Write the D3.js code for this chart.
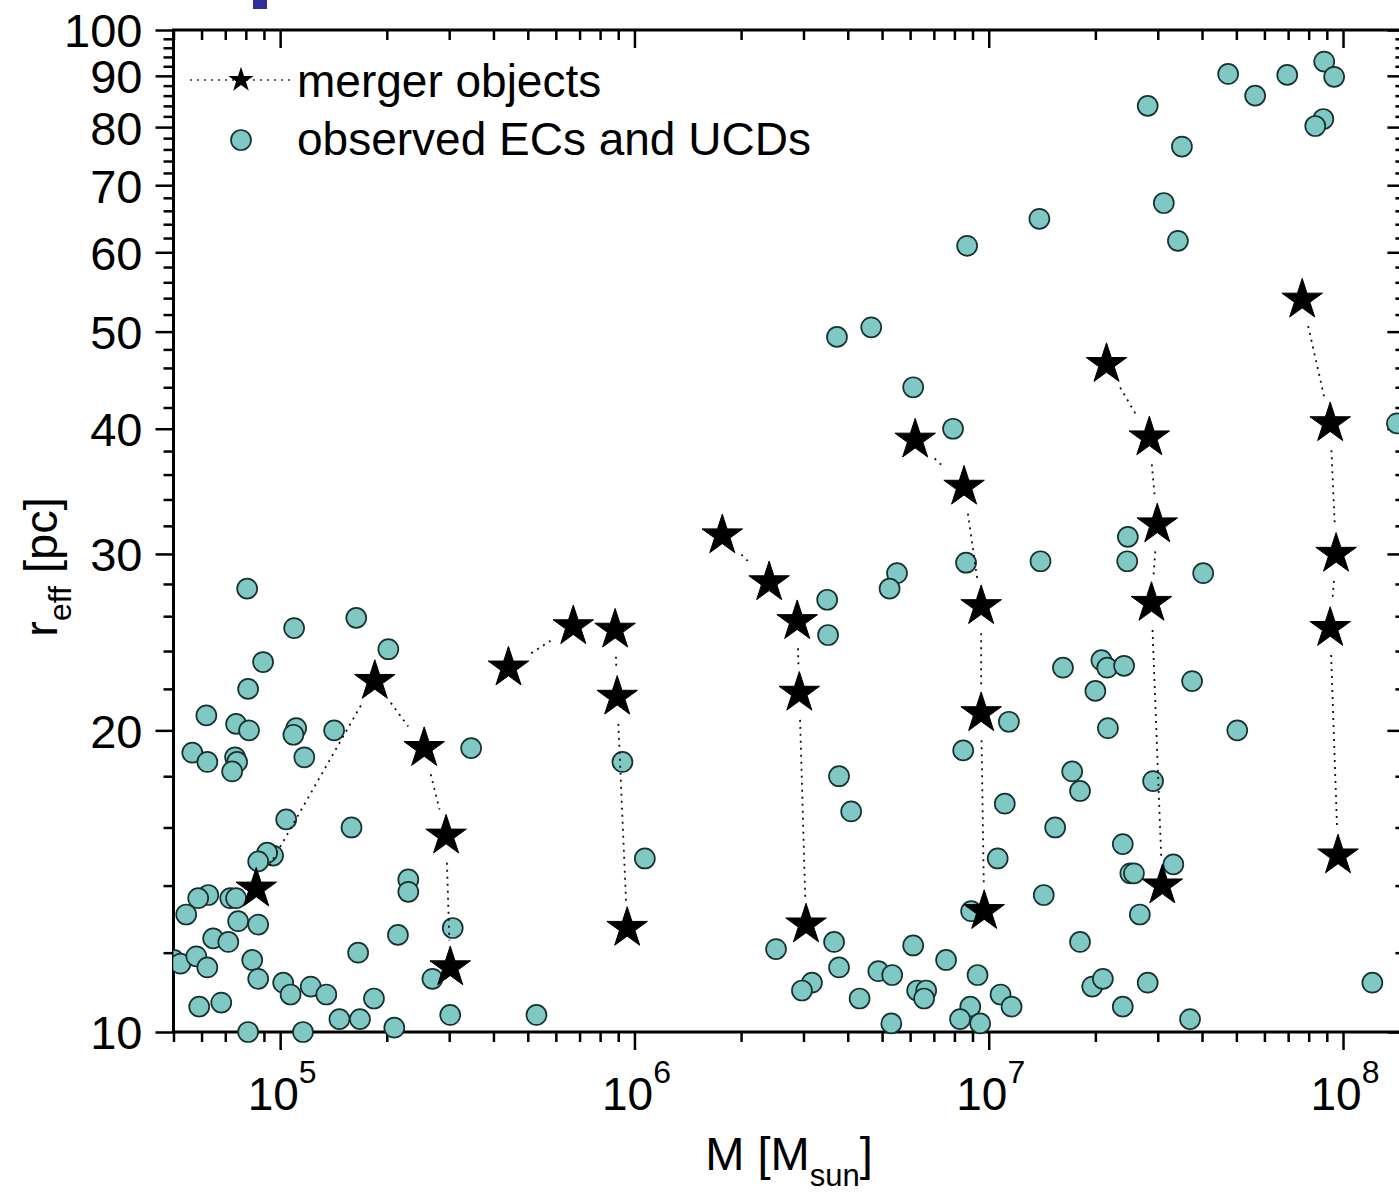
<!DOCTYPE html>
<meta charset="utf-8">
<style>
body { margin: 0; background: #fff; }
#grafico text {
  font-family: "Liberation Sans", Arial, sans-serif;
  fill: #000;
}
#grafico .eje path { display: none; }
#grafico .eje line { stroke: #000; stroke-width: 2.5; }
</style>
<svg id="grafico" width="1399" height="1195"></svg>
<script src="https://d3js.org/d3.v7.min.js"></script>
<script>

// merger objects: one array per sequence (mass in M_sun, r_eff in pc)
var mergerMass = [
  [8.56e4, 1.85e5, 2.55e5, 2.94e5, 3.02e5],
  [4.41e5, 6.72e5, 8.82e5, 8.94e5, 9.54e5],
  [1.77e6, 2.40e6, 2.88e6, 2.92e6, 3.05e6],
  [6.20e6, 8.52e6, 9.52e6, 9.52e6, 9.71e6],
  [2.15e7, 2.84e7, 2.99e7, 2.88e7, 3.09e7],
  [7.67e7, 9.20e7, 9.56e7, 9.20e7, 9.68e7]
];
var mergerReff = [
  [13.9, 22.4, 19.2, 15.7, 11.6],
  [23.1, 25.4, 25.2, 21.6, 12.7],
  [31.3, 28.1, 25.7, 21.8, 12.8],
  [39.0, 35.0, 26.6, 20.8, 13.2],
  [46.4, 39.2, 32.1, 26.8, 14.0],
  [53.8, 40.5, 30.0, 25.3, 15.0]
];

// observed ECs and UCDs
var obsMass = [
  8.07e4, 1.095e5, 1.64e5, 2.02e5, 8.95e4, 8.12e4, 6.19e4, 7.51e4, 8.17e4, 1.11e5,
  1.09e5, 1.42e5, 5.65e4, 6.23e4, 7.46e4, 7.56e4, 7.32e4, 1.17e5, 3.46e5, 1.04e5,
  1.59e5, 9.55e4, 9.19e4, 8.67e4, 2.30e5, 2.30e5, 6.27e4, 5.87e4, 7.23e4, 7.51e4,
  5.43e4, 7.61e4, 8.67e4, 3.07e5, 6.47e4, 7.14e4, 2.15e5, 5.01e4, 5.23e4, 5.80e4,
  6.23e4, 8.34e4, 8.67e4, 1.66e5, 2.69e5, 1.02e5, 1.07e5, 1.22e5, 1.35e5, 1.84e5,
  5.91e4, 6.82e4, 1.47e5, 1.68e5, 3.02e5, 8.12e4, 1.16e5, 2.10e5, 5.29e5, 9.25e5,
  1.07e6, 2.51e6, 3.66e6, 3.78e6, 4.09e6, 3.78e6, 3.17e6, 2.97e6, 4.32e6, 4.88e6,
  5.34e6, 5.31e6, 6.12e6, 6.28e6, 6.66e6, 6.57e6, 7.58e6, 8.47e6, 1.14e7, 1.11e7,
  1.06e7, 8.92e6, 9.30e6, 8.87e6, 8.30e6, 9.46e6, 1.08e7, 1.16e7, 1.43e7, 1.72e7,
  1.81e7, 1.54e7, 1.81e7, 1.96e7, 2.10e7, 3.73e6, 4.66e6, 6.12e6, 7.93e6, 8.69e6,
  1.39e7, 1.40e7, 8.63e6, 5.51e6, 5.25e6, 3.50e6, 3.52e6, 2.47e7, 2.46e7, 4.03e7,
  1.62e7, 2.08e7, 2.16e7, 2.41e7, 2.00e7, 3.75e7, 2.17e7, 5.03e7, 2.91e7, 2.39e7,
  3.32e7, 2.51e7, 2.57e7, 2.67e7, 2.81e7, 2.39e7, 3.70e7, 1.21e8, 2.81e7, 3.51e7,
  3.12e7, 3.42e7, 4.74e7, 5.65e7, 6.96e7, 8.85e7, 9.44e7, 8.80e7, 8.35e7, 1.42e8
];
var obsReff = [
  27.7, 25.3, 25.9, 24.1, 23.4, 22.0, 20.7, 20.3, 20.0, 20.1,
  19.8, 20.0, 19.0, 18.6, 18.8, 18.6, 18.2, 18.8, 19.2, 16.3,
  16.0, 15.0, 15.1, 14.8, 14.2, 13.8, 13.7, 13.6, 13.6, 13.6,
  13.1, 12.9, 12.8, 12.7, 12.4, 12.3, 12.5, 11.8, 11.7, 11.9,
  11.6, 11.8, 11.3, 12.0, 11.3, 11.2, 10.9, 11.1, 10.9, 10.8,
  10.6, 10.7, 10.3, 10.3, 10.4, 10.0, 10.0, 10.1, 10.4, 18.6,
  14.9, 12.1, 12.3, 18.0, 16.6, 11.6, 11.2, 11.0, 10.8, 11.5,
  11.4, 10.2, 12.2, 11.0, 11.0, 10.8, 11.8, 19.1, 20.4, 16.9,
  14.9, 13.2, 11.4, 10.6, 10.3, 10.2, 10.9, 10.6, 13.7, 18.2,
  17.4, 16.0, 12.3, 11.1, 11.3, 49.4, 50.5, 44.0, 40.0, 60.9,
  64.8, 29.5, 29.4, 28.7, 27.7, 27.0, 24.9, 31.2, 29.5, 28.7,
  23.1, 23.5, 23.1, 23.2, 21.9, 22.4, 20.1, 20.0, 17.8, 15.4,
  14.7, 14.4, 14.4, 13.1, 11.2, 10.6, 10.3, 11.2, 84.0, 76.5,
  67.2, 61.6, 90.4, 86.0, 90.2, 93.0, 89.8, 81.5, 80.2, 40.5
];

// axis ticks and labels
var xMajor = [1e5, 1e6, 1e7, 1e8];
var yMajor = [10, 20, 30, 40, 50, 60, 70, 80, 90, 100];
var yMinor = d3.range(12, 100, 2).filter(function(d) { return d % 10 !== 0; });
var legendLabels = ["merger objects", "observed ECs and UCDs"];

var mLeft = 173.5, mRight = 1405.4, mTop = 30, mBottom = 1032;

var x = d3.scaleLog().domain([5e4, 1.5e8]).range([mLeft, mRight]);
var y = d3.scaleLog().domain([10, 100]).range([mBottom, mTop]);

var xMinor = x.ticks().filter(function(d) { return xMajor.indexOf(d) < 0; });

var svg = d3.select("#grafico");

// stray blue mark at the top
svg.append("rect")
    .attr("x", 253).attr("y", 0)
    .attr("width", 14).attr("height", 9)
    .attr("fill", "#2f2f9c");

// ---- axes
function eje(axis, tx, ty) {
  svg.append("g")
      .attr("class", "eje")
      .attr("transform", "translate(" + tx + "," + ty + ")")
      .call(axis.tickSizeOuter(0));
}

eje(d3.axisBottom(x).tickValues(xMajor).tickSize(18).tickFormat(""), 0, mBottom);
eje(d3.axisBottom(x).tickValues(xMinor).tickSize(10).tickFormat(""), 0, mBottom);
eje(d3.axisTop(x).tickValues(xMajor).tickSize(-18).tickFormat(""), 0, mTop);
eje(d3.axisTop(x).tickValues(xMinor).tickSize(-10).tickFormat(""), 0, mTop);
eje(d3.axisLeft(y).tickValues(yMinor).tickSize(10).tickFormat(""), mLeft, 0);
eje(d3.axisRight(y).tickValues(yMajor).tickSize(-18).tickFormat(""), mRight, 0);
eje(d3.axisRight(y).tickValues(yMinor).tickSize(-10).tickFormat(""), mRight, 0);

svg.append("g")
    .attr("class", "eje")
    .attr("transform", "translate(" + mLeft + ",0)")
    .call(d3.axisLeft(y).tickValues(yMajor).tickSize(18).tickSizeOuter(0)
      .tickPadding(13).tickFormat(function(d) { return d; }))
  .selectAll("text")
    .attr("dy", "0.36em")
    .style("font-size", "47px");

// x labels as 10^n
var xl = svg.append("g").selectAll("text")
    .data(xMajor)
  .enter().append("text")
    .attr("x", function(d) { return x(d) + 2; })
    .attr("y", 1110)
    .attr("text-anchor", "middle")
    .style("font-size", "46px")
    .text("10");
xl.append("tspan")
    .attr("dy", -27)
    .style("font-size", "32px")
    .text(function(d) { return Math.round(Math.log10(d)); });

// frame
svg.append("rect")
    .attr("x", mLeft).attr("y", mTop)
    .attr("width", mRight - mLeft).attr("height", mBottom - mTop)
    .attr("fill", "none")
    .attr("stroke", "#000")
    .attr("stroke-width", 3);

// axis titles
var xt = svg.append("text")
    .attr("x", 789).attr("y", 1170)
    .attr("text-anchor", "middle")
    .style("font-size", "47px")
    .text("M [M");
xt.append("tspan").attr("dy", 16).style("font-size", "31px").text("sun");
xt.append("tspan").attr("dy", -16).text("]");

var yt = svg.append("text")
    .attr("transform", "translate(57,567) rotate(-90)")
    .attr("text-anchor", "middle")
    .style("font-size", "47px")
    .text("r");
yt.append("tspan").attr("dy", 14).style("font-size", "32px").text("eff");
yt.append("tspan").attr("dy", -14).text(" [pc]");

// ---- observed points
svg.append("clipPath").attr("id", "area")
  .append("rect")
    .attr("x", mLeft).attr("y", 0)
    .attr("width", mRight - mLeft).attr("height", mBottom + 15);

svg.append("g")
    .attr("clip-path", "url(#area)")
  .selectAll("circle")
    .data(obsMass)
  .enter().append("circle")
    .attr("cx", function(d) { return x(d); })
    .attr("cy", function(d, i) { return y(obsReff[i]); })
    .attr("r", 10)
    .attr("fill", "#7fc8c4")
    .attr("stroke", "#17312f")
    .attr("stroke-width", 1.7);

// ---- merger sequences: dotted segments with a gap round each star
var gap = 27;
var segs = [];
mergerMass.forEach(function(ms, k) {
  for (var i = 0; i < ms.length - 1; i++) {
    var x0 = x(ms[i]), y0 = y(mergerReff[k][i]);
    var x1 = x(ms[i + 1]), y1 = y(mergerReff[k][i + 1]);
    var len = Math.hypot(x1 - x0, y1 - y0);
    if (len <= 2 * gap) continue;
    var ux = (x1 - x0) / len, uy = (y1 - y0) / len;
    segs.push([[x0 + ux * gap, y0 + uy * gap], [x1 - ux * gap, y1 - uy * gap]]);
  }
});

svg.append("g").selectAll("path")
    .data(segs)
  .enter().append("path")
    .attr("d", d3.line())
    .attr("fill", "none")
    .attr("stroke", "#111")
    .attr("stroke-width", 1.8)
    .attr("stroke-dasharray", "2,5");

var star = d3.symbol(d3.symbolStar, 510);
var pts = [];
mergerMass.forEach(function(ms, k) {
  ms.forEach(function(m, i) { pts.push([m, mergerReff[k][i]]); });
});

svg.append("g").selectAll("path")
    .data(pts)
  .enter().append("path")
    .attr("d", star)
    .attr("transform", function(d) { return "translate(" + x(d[0]) + "," + y(d[1]) + ")"; })
    .attr("fill", "#000")
    .attr("stroke", "#000")
    .attr("stroke-width", 1);

// ---- legend
var leg = svg.append("g");
leg.append("line")
    .attr("x1", 190).attr("x2", 295)
    .attr("y1", 80).attr("y2", 80)
    .attr("stroke", "#333")
    .attr("stroke-width", 1.6)
    .attr("stroke-dasharray", "2,5");
leg.append("path")
    .attr("d", d3.symbol(d3.symbolStar, 200))
    .attr("transform", "translate(241,80)")
    .attr("fill", "#000");
leg.append("circle")
    .attr("cx", 241).attr("cy", 140).attr("r", 10)
    .attr("fill", "#7fc8c4")
    .attr("stroke", "#17312f")
    .attr("stroke-width", 1.7);
leg.selectAll("text")
    .data(legendLabels)
  .enter().append("text")
    .attr("x", 297)
    .attr("y", function(d, i) { return 97 + i * 58; })
    .style("font-size", "46px")
    .text(function(d) { return d; });

</script>
